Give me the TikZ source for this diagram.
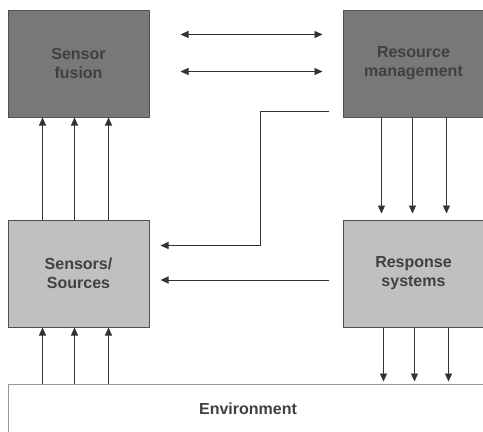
\documentclass[tikz,border=0pt]{standalone}
\usepackage{fontspec}
\setmainfont{Liberation Sans}
\usepackage{xcolor}
\usetikzlibrary{arrows.meta, positioning}

\definecolor{darkfill}{HTML}{787878}
\definecolor{lightfill}{HTML}{C0C0C0}
\definecolor{labelgray}{HTML}{404040}
\definecolor{edgegray}{HTML}{505050}

\begin{document}
\begin{tikzpicture}[
    x=1pt, y=-1pt,
    >={Triangle[length=8pt, width=7pt]},
    node distance=102pt,
    block/.style={
        draw=edgegray, line width=1pt, rectangle, minimum width=141pt,
        minimum height=107pt, align=center, text=labelgray,
        font=\fontsize{16}{19}\selectfont\bfseries, inner sep=0pt
    },
    upper/.style={block, fill=darkfill},
    lower/.style={block, fill=lightfill},
    envbox/.style={
        draw=gray!80, line width=1pt, rectangle, minimum width=490pt,
        minimum height=56pt, text=labelgray, inner sep=0pt,
        font=\fontsize{16}{19}\selectfont\bfseries
    },
    link/.style={line width=0.9pt, draw=black!80}
]

\useasboundingbox (0,0) rectangle (483,432);
\clip (0,0) rectangle (483,432);

\node [upper] (fusion) at (78.5,63.5) {Sensor\\fusion};

\node [upper, right=193pt of fusion] (resource) {Resource\\management};

\node [lower, below=of fusion] (sensors) {Sensors/\\Sources};

\node [lower, below=of resource] (response) {Response\\systems};

\node [envbox, anchor=north west] (env) at ([yshift=-56pt]sensors.south west) {};
\node [text=labelgray, font=\fontsize{16}{19}\selectfont\bfseries] (envlabel) at (248,409) {Environment};

% exchange between fusion and management
\draw[link, <->] ([xshift=31pt, yshift=-25pt]fusion.north east) -- ([xshift=-20pt, yshift=-25pt]resource.north west);
\draw[link, <->] ([xshift=31pt, yshift=-62pt]fusion.north east) -- ([xshift=-20pt, yshift=-62pt]resource.north west);

% sensors feed fusion, environment feeds sensors
\foreach \dx in {35,67,101} {
    \draw[link, ->] ([xshift=\dx pt]sensors.north west) -- ([xshift=\dx pt]fusion.south west);
    \draw[link, ->] ([xshift=\dx pt]env.north west) -- ([xshift=\dx pt]sensors.south west);
}

% management drives response systems
\foreach \dx in {39,70,104}
    \draw[link, ->] ([xshift=\dx pt]resource.south west) -- ([xshift=\dx pt, yshift=6pt]response.north west);

% response systems act on the environment
\foreach \dx in {41,72,106} {
    \coordinate (out\dx) at ([xshift=\dx pt]response.south west);
    \draw[link, ->, shorten >=2pt] (out\dx) -- (out\dx |- env.north);
}

% tasking back to the sensors
\draw[link, ->] ([xshift=-14pt, yshift=6pt]resource.south west) -- ++(-68pt,0)
    |- ([xshift=11pt, yshift=-26pt]sensors.north east);
\draw[link, ->] ([xshift=-14pt, yshift=-6.5pt]response.west) -- ([xshift=11pt, yshift=-6.5pt]sensors.east);

\end{tikzpicture}
\end{document}
